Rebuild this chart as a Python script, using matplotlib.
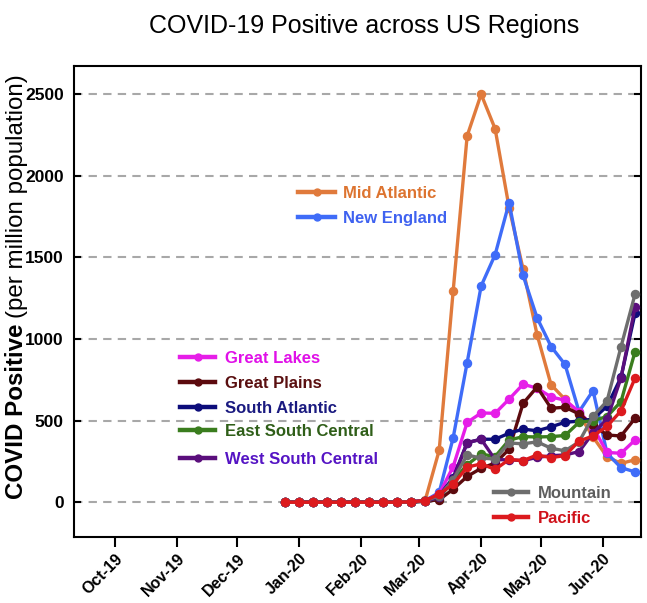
import matplotlib
matplotlib.use("Agg")
import matplotlib.pyplot as plt
import matplotlib.dates as mdates
from matplotlib.lines import Line2D
from matplotlib import font_manager
import numpy as np
import pandas as pd

# ---------------- data ----------------
dates = pd.date_range("2019-12-25", periods=26, freq="7D")

mid_atlantic = [0, 0, 0, 0, 0, 0, 0, 0, 0, 3, 12, 318, 1295, 2245, 2500, 2288, 1805, 1428,
                1026, 720, 630, 540, 400, 278, 238, 260]
new_england = [0, 0, 0, 0, 0, 0, 0, 0, 0, 3, 10, 60, 395, 856, 1325, 1517, 1836, 1390,
               1130, 954, 844, 555, 684, 300, 212, 186]
great_lakes = [0, 0, 0, 0, 0, 0, 0, 0, 0, 3, 10, 50, 218, 489, 547, 545, 632, 723,
               699, 645, 625, 555, 460, 305, 300, 381]
great_plains = [0, 0, 0, 0, 0, 0, 0, 0, 0, 2, 6, 15, 80, 158, 208, 240, 325, 606,
                706, 576, 582, 541, 473, 412, 406, 514]
south_atlantic = [0, 0, 0, 0, 0, 0, 0, 0, 0, 3, 8, 40, 150, 365, 386, 386, 423, 448,
                  438, 462, 490, 497, 510, 588, 765, 1157]
east_south_central = [0, 0, 0, 0, 0, 0, 0, 0, 0, 2, 6, 30, 130, 230, 295, 280, 381, 402,
                      400, 402, 409, 490, 500, 525, 617, 922]
west_south_central = [0, 0, 0, 0, 0, 0, 0, 0, 0, 2, 6, 30, 140, 365, 386, 261, 260, 255,
                      275, 285, 290, 310, 425, 508, 762, 1195]
mountain = [0, 0, 0, 0, 0, 0, 0, 0, 0, 3, 8, 40, 137, 290, 270, 265, 363, 358,
            370, 331, 315, 370, 527, 620, 953, 1274]
pacific = [0, 0, 0, 0, 0, 0, 0, 0, 0, 3, 10, 50, 110, 215, 235, 201, 262, 255,
           290, 273, 286, 375, 406, 465, 560, 760]

region_names = ["Mid Atlantic", "New England", "Great Lakes", "Great Plains",
                "South Atlantic", "East South Central", "West South Central",
                "Mountain", "Pacific"]
series = [mid_atlantic, new_england, great_lakes, great_plains, south_atlantic,
          east_south_central, west_south_central, mountain, pacific]

y_ticks = [0, 500, 1000, 1500, 2000, 2500]

# ---------------- style ----------------
line_colors = ["#E07A3C", "#3F6CF8", "#E61EE8", "#5C0A0E", "#0C0C7A",
               "#3A7D1E", "#5A0E7C", "#6E6E6E", "#DC1A1E"]
text_colors = ["#DD7430", "#3F62F0", "#E010E8", "#5A0F10", "#1A1A80",
               "#2F5E18", "#5514C4", "#5E5E5E", "#D0121A"]


def have(fam):
    try:
        font_manager.findfont(font_manager.FontProperties(family=fam), fallback_to_default=False)
        return True
    except Exception:
        return False


SANS = "Liberation Sans" if have("Liberation Sans") else "DejaVu Sans"
NARROW = "Liberation Sans Narrow" if have("Liberation Sans Narrow") else SANS
plt.rcParams["font.family"] = [SANS, "DejaVu Sans"]

W, H = 647, 603
fig = plt.figure(figsize=(W / 100, H / 100), dpi=100)
ax = fig.add_axes([73.5 / W, 1 - 537 / H, (641 - 73.5) / W, (537 - 66) / H])

for vals, col in zip(series, line_colors):
    ax.plot(dates, vals, color=col, lw=2.4, marker="o", ms=5.8, mec=col, mfc=col, zorder=3)

ax.set_xlim(pd.Timestamp("2019-09-10"), pd.Timestamp("2020-06-20"))
ax.set_ylim(-213, 2673)
ax.set_yticks(y_ticks)
ax.yaxis.grid(True, linestyle=(0, (4, 3)), color="#A8A8A8", lw=1.5, zorder=0)
ax.set_axisbelow(True)

ax.set_xticks(pd.date_range("2019-10-01", "2020-06-01", freq="MS"))
ax.xaxis.set_major_formatter(mdates.DateFormatter("%b-%y"))

for s in ax.spines.values():
    s.set_linewidth(1.5)
ax.tick_params(axis="y", direction="in", length=5, width=1.5, left=True, right=True, pad=7)
ax.tick_params(axis="x", direction="out", length=7, width=1.5, pad=3)
for lab in ax.get_yticklabels():
    lab.set_fontfamily([NARROW, "DejaVu Sans"])
    lab.set_fontweight("bold")
    lab.set_fontsize(12.5)
for lab in ax.get_xticklabels():
    lab.set_fontweight("bold")
    lab.set_fontsize(11.5)
    lab.set_rotation(45)
    lab.set_ha("right")
    lab.set_rotation_mode("anchor")

# title
fig.text(364 / W, 1 - 33 / H, "COVID-19 Positive across US Regions", ha="center",
         va="baseline", fontsize=18)

# legend-like labels
label_pos = {
    "Mid Atlantic": (298, 335, 192, 343),
    "New England": (298, 335, 217, 343),
    "Great Lakes": (180, 215, 357, 225),
    "Great Plains": (180, 215, 382, 225),
    "South Atlantic": (180, 215, 407, 225),
    "East South Central": (180, 215, 430, 225),
    "West South Central": (180, 215, 458, 225),
    "Mountain": (494, 528, 492, 538),
    "Pacific": (494, 528, 517, 538),
}
for name, lc, tc in zip(region_names, line_colors, text_colors):
    x0, x1, yy, xt = label_pos[name]
    fy = 1 - yy / H
    fig.add_artist(Line2D([x0 / W, x1 / W], [fy, fy], transform=fig.transFigure,
                          color=lc, lw=3.2, zorder=5))
    fig.add_artist(Line2D([(x0 + x1) / 2 / W], [fy], transform=fig.transFigure,
                          color=lc, marker="o", ms=5, zorder=6))
    fig.text(xt / W, fy, name, color=tc, fontsize=12, fontweight="bold",
             ha="left", va="center_baseline", zorder=6)

# y label: bold part + regular part
t1 = fig.text(17 / W, 1 - 499 / H, "COVID Positive", rotation=90, fontsize=17.4,
              fontweight="bold", ha="center", va="bottom")
fig.canvas.draw()
bb = t1.get_window_extent(fig.canvas.get_renderer())
fig.text(17 / W, (bb.y1 + 5) / H, "(per million population)", rotation=90,
         fontsize=17.4, ha="center", va="bottom")

fig.savefig("out.png", dpi=100)
